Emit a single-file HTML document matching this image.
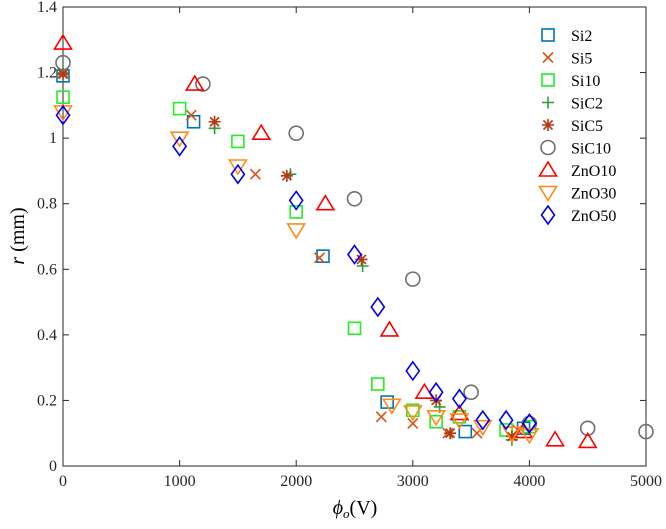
<!DOCTYPE html>
<html><head><meta charset="utf-8"><style>
body{margin:0;background:#fff}
svg text{font-family:"Liberation Serif",serif}
</style></head><body>
<svg id="chart" width="666" height="524" viewBox="0 0 666 524" xmlns="http://www.w3.org/2000/svg">
<rect x="0" y="0" width="666" height="524" fill="#fff"/>
<g id="axes"></g>
<g id="marks"></g>
<g id="legend"></g>
<text x="355" y="514" font-size="20" text-anchor="middle"><tspan font-style="italic">ϕ</tspan><tspan font-size="13" dy="4" font-style="italic">o</tspan><tspan dy="-4">(V)</tspan></text>
<text transform="translate(24,236) rotate(-90)" font-size="20" text-anchor="middle"><tspan font-style="italic">r</tspan> (mm)</text>
</svg>
<script>
const xTicks=[0,1000,2000,3000,4000,5000];
const yTicks=[0,0.2,0.4,0.6,0.8,1,1.2,1.4];
const seriesNames=["Si2","Si5","Si10","SiC2","SiC5","SiC10","ZnO10","ZnO30","ZnO50"];
const si2X=[0,1120,2230,2780,3450,3950];
const si2Y=[1.19,1.05,0.64,0.195,0.105,0.115];
const si5X=[0,1100,1650,2200,2730,3000,3300,3550,3900];
const si5Y=[1.2,1.07,0.89,0.635,0.15,0.13,0.1,0.1,0.11];
const si10X=[0,1000,1500,2000,2500,2700,3000,3200,3400,3800,4000];
const si10Y=[1.125,1.09,0.99,0.775,0.42,0.25,0.17,0.135,0.15,0.11,0.12];
const sic2X=[0,1300,1950,2570,3230,3850];
const sic2Y=[1.2,1.03,0.89,0.61,0.18,0.08];
const sic5X=[0,1300,1920,2560,3200,3320,3850];
const sic5Y=[1.195,1.05,0.885,0.63,0.2,0.1,0.09];
const sic10X=[0,1200,2000,2500,3000,3500,4000,4500,5000];
const sic10Y=[1.23,1.165,1.015,0.815,0.57,0.225,0.13,0.115,0.105];
const zno10X=[0,1130,1700,2250,2800,3100,3400,3950,4220,4500];
const zno10Y=[1.29,1.165,1.015,0.8,0.415,0.225,0.16,0.105,0.08,0.075];
const zno30X=[0,1000,1500,2000,2820,3000,3200,3400,3600,3850,4000];
const zno30Y=[1.08,1.0,0.915,0.72,0.185,0.165,0.15,0.14,0.12,0.1,0.095];
const zno50X=[0,1000,1500,2000,2500,2700,3000,3200,3400,3600,3800,4000];
const zno50Y=[1.07,0.975,0.89,0.81,0.645,0.485,0.29,0.225,0.205,0.14,0.14,0.13];

const L=63,R=646,T=7,B=466;
const sx=v=>L+(v-0)/(5000-0)*(R-L);
const sy=v=>B-(v-0)/(1.4-0)*(B-T);
const NS="http://www.w3.org/2000/svg";
function mk(tag,attrs,parent){const e=document.createElementNS(NS,tag);for(const k in attrs)e.setAttribute(k,attrs[k]);parent.appendChild(e);return e;}
const axes=document.getElementById('axes');
const box=mk('rect',{x:L,y:T,width:R-L,height:B-T,fill:'none',stroke:'#262626','stroke-width':1},axes);


xTicks.forEach(t=>{
  const x=sx(t);
  mk('line',{x1:x,x2:x,y1:B,y2:B-6,stroke:'#262626'},axes);
  mk('line',{x1:x,x2:x,y1:T,y2:T+6,stroke:'#262626'},axes);
  const tx=mk('text',{x:x,y:B+20,'font-size':16,'text-anchor':'middle',fill:'#262626'},axes);
  tx.textContent=t;
  
  
});
yTicks.forEach(t=>{
  const y=sy(t);
  mk('line',{x1:L,x2:L+6,y1:y,y2:y,stroke:'#262626'},axes);
  mk('line',{x1:R,x2:R-6,y1:y,y2:y,stroke:'#262626'},axes);
  const tx=mk('text',{x:L-6,y:y+5,'font-size':16,'text-anchor':'end',fill:'#262626'},axes);
  tx.textContent=String(Math.round(t*10)/10);
  
  
});
const styles=[
 {c:'#0072BD',m:'square'},{c:'#D95319',m:'x'},{c:'#22EE22',m:'square'},
 {c:'#2E9E3E',m:'plus'},{c:'#B23A10',m:'star'},{c:'#707070',m:'circle'},
 {c:'#FF0000',m:'tri'},{c:'#FF8C1A',m:'tridown'},{c:'#0000EE',m:'diamond'}];
function marker(g,m,x,y,c){
  const a={fill:'none',stroke:c,'stroke-width':1.6};
  let e;
  if(m==='square')e=mk('rect',Object.assign({x:x-6,y:y-6,width:12,height:12},a),g);
  else if(m==='circle')e=mk('circle',Object.assign({cx:x,cy:y,r:7},a),g);
  else if(m==='x')e=mk('path',Object.assign({d:`M${x-5},${y-5}L${x+5},${y+5}M${x-5},${y+5}L${x+5},${y-5}`},a),g);
  else if(m==='plus')e=mk('path',Object.assign({d:`M${x-6},${y}L${x+6},${y}M${x},${y-6}L${x},${y+6}`},a),g);
  else if(m==='star')e=mk('path',Object.assign({d:`M${x-6},${y}L${x+6},${y}M${x},${y-6}L${x},${y+6}M${x-4.5},${y-4.5}L${x+4.5},${y+4.5}M${x-4.5},${y+4.5}L${x+4.5},${y-4.5}`},a),g);
  else if(m==='tri')e=mk('path',Object.assign({d:`M${x},${y-8}L${x+8.5},${y+6}L${x-8.5},${y+6}Z`},a),g);
  else if(m==='tridown')e=mk('path',Object.assign({d:`M${x},${y+8}L${x+8.5},${y-6}L${x-8.5},${y-6}Z`},a),g);
  else e=mk('path',Object.assign({d:`M${x},${y-9}L${x+6.5},${y}L${x},${y+9}L${x-6.5},${y}Z`},a),g);
  return e;
}
const allX=[si2X,si5X,si10X,sic2X,sic5X,sic10X,zno10X,zno30X,zno50X];
const allY=[si2Y,si5Y,si10Y,sic2Y,sic5Y,sic10Y,zno10Y,zno30Y,zno50Y];
const marks=document.getElementById('marks');
allX.forEach((xs,i)=>{
  const g=mk('g',{},marks);
  
  
  xs.forEach((xv,j)=>{
    const e=marker(g,styles[i].m,sx(xv),sy(allY[i][j]),styles[i].c);
    
    
  });
});
const leg=document.getElementById('legend');
seriesNames.forEach((n,i)=>{
  const y=35+i*22.5;
  const g=mk('g',{},leg);
  
  
  marker(g,styles[i].m,548,y,styles[i].c);
  const t=mk('text',{x:571,y:y+6,'font-size':16,fill:'#000'},g);
  t.textContent=n;
});
</script>
</body></html>
